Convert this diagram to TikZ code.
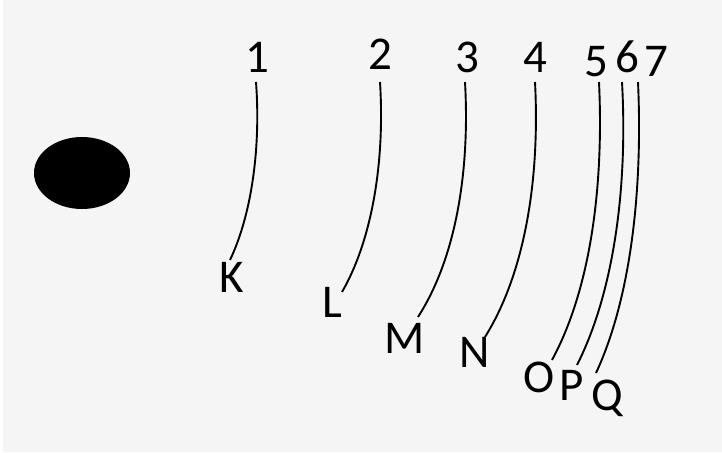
\documentclass[tikz,border=0pt]{standalone}
\usepackage{fontspec}
\setmainfont{Carlito}
\usetikzlibrary{calc}
\definecolor{bg}{HTML}{F5F5F5}
\begin{document}
\begin{tikzpicture}[x=1pt,y=-1pt,
  lbl/.style={inner sep=0pt,anchor=base,font=\fontsize{47}{52}\selectfont},
  wire/.style={line width=1.9pt,black}]
\fill[white] (0,0) rectangle (722,452);
\fill[bg] (3,0) rectangle (722,452);
\useasboundingbox (0,0) rectangle (722,452);
% black spot
\fill[black] (82,173) ellipse [x radius=48, y radius=36];
% top labels
\node[lbl] (n1) at (257,73) {1};
\node[lbl] (n2) at (380,69) {2};
\node[lbl] (n3) at (467,72) {3};
\node[lbl] (n4) at (535,72) {4};
\node[lbl] (n5) at (596,77) {5};
\node[lbl] (n6) at (627,73) {6};
\node[lbl] (n7) at (656,77) {7};
% bottom labels
\node[lbl] (K) at (232,292) {K};
\node[lbl] (L) at (332,317) {L};
\node[lbl] (M) at (405,353) {M};
\node[lbl] (N) at (475,367) {N};
\node[lbl] (O) at (539,392) {O};
\node[lbl] (P) at (572,400) {P};
\node[lbl] (Q) at (607,410) {Q};
% connectors
\draw[wire] ($(n1.base)+(-1,9)$) .. controls (261,150) and (251,216) .. ($(K.base)+(-2,-32)$);
\draw[wire] ($(n2.base)+(0,13)$) .. controls (385,162) and (372,240) .. ($(L.base)+(10,-25)$);
\draw[wire] ($(n3.base)+(-2,10)$) .. controls (470,171) and (456,258) .. ($(M.base)+(13,-36)$);
\draw[wire] ($(n4.base)+(0,10)$) .. controls (540,179) and (525,273) .. ($(N.base)+(10,-30)$);
\draw[wire] ($(n5.base)+(3,5)$) .. controls (604,188) and (590,290) .. ($(O.base)+(13,-32)$);
\draw[wire] ($(n6.base)+(-5,9)$) .. controls (628,190) and (613,294) .. ($(P.base)+(5,-35)$);
\draw[wire] ($(n7.base)+(-18,5)$) .. controls (643,193) and (630,300) .. ($(Q.base)+(-11,-37)$);
\end{tikzpicture}
\end{document}
